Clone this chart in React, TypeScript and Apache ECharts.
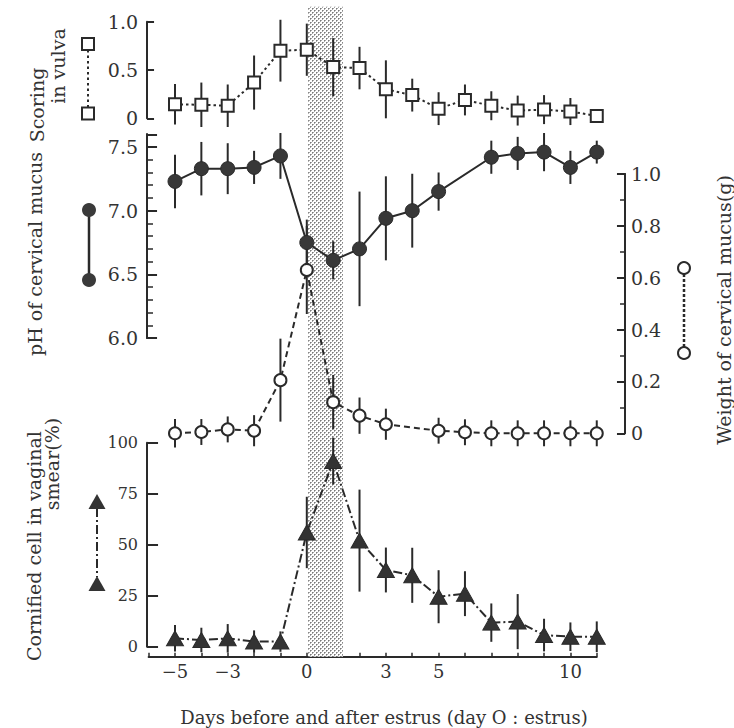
import React, { useEffect, useRef } from "react";
import * as echarts from "echarts";

// ---------------- data ----------------
const days = [-5, -4, -3, -2, -1, 0, 1, 2, 3, 4, 5, 6, 7, 8, 9, 10, 11];

// Scoring in vulva (open squares, dotted line)
const scoringMean = [0.145, 0.14, 0.13, 0.37, 0.7, 0.71, 0.53, 0.52, 0.3, 0.24, 0.1, 0.19, 0.13, 0.08, 0.09, 0.07, 0.025];
const scoringErr = [0.21, 0.23, 0.22, 0.28, 0.32, 0.27, 0.3, 0.22, 0.3, 0.17, 0.17, 0.16, 0.15, 0.155, 0.15, 0.14, 0];

// pH of cervical mucus (filled circles, solid line) - no value on day 6
const phDays = [-5, -4, -3, -2, -1, 0, 1, 2, 3, 4, 5, 7, 8, 9, 10, 11];
const phMean = [7.23, 7.33, 7.33, 7.34, 7.43, 6.75, 6.61, 6.7, 6.94, 7.0, 7.15, 7.42, 7.45, 7.46, 7.34, 7.46];
const phErr = [0.21, 0.21, 0.2, 0.13, 0.18, 0.18, 0.15, 0.45, 0.33, 0.29, 0.15, 0.13, 0.13, 0.15, 0.13, 0.09];

// Weight of cervical mucus (open circles, dashed line) - no value on day 4
const weightDays = [-5, -4, -3, -2, -1, 0, 1, 2, 3, 5, 6, 7, 8, 9, 10, 11];
const weightMean = [0.0, 0.005, 0.015, 0.01, 0.205, 0.63, 0.12, 0.068, 0.035, 0.01, 0.004, 0, 0, 0, 0, 0];
const weightErr = [0.055, 0.05, 0.05, 0.06, 0.16, 0.17, 0.105, 0.07, 0.06, 0.05, 0.05, 0.05, 0.05, 0.05, 0.05, 0.05];

// Cornified cells in vaginal smear, % (filled triangles, dash-dot line)
const cornifiedMean = [4.1, 3.3, 4.1, 2.5, 2.5, 56, 91, 52, 37.6, 35, 24.5, 26, 11.8, 12.3, 5.7, 4.9, 4.9];
const cornifiedErr = [6.5, 6, 7, 5.5, 5, 17.5, 11.5, 25, 11, 13.5, 13, 11, 9.4, 13.5, 8, 7, 7.5];

const xTickLabels = [-5, -3, 0, 3, 5, 10];
const estrusBand = [0.05, 1.37];

// ---------------- layout ----------------
const X0 = 306.8; // pixel of day 0
const PPD = 26.36; // pixels per day
const XMIN = -6;
const XMAX = 12.07;
const XMAX_AXIS = 11;
const LEFT = X0 + XMIN * PPD;
const WIDE = (XMAX - XMIN) * PPD;
const NARROW = (XMAX_AXIS - XMIN) * PPD;

const INK = "#2a2a2a";
const TXT = "#333333";
const FONT = "DejaVu Serif";

const fmt1 = (v: number) => (Math.abs(v) < 1e-9 ? "0" : v.toFixed(1));

export default function App() {
  const ref = useRef<HTMLDivElement>(null);

  useEffect(() => {
    document.body.style.margin = "0";
    const el = ref.current;
    if (!el) return;
    const chart = echarts.init(el, undefined, { renderer: "svg" });

    let shadeFill: any = "#cfcfcf";
    try {
      const c = document.createElement("canvas");
      c.width = 4;
      c.height = 4;
      const ctx = c.getContext("2d");
      if (ctx) {
        ctx.fillStyle = "#ffffff";
        ctx.fillRect(0, 0, 4, 4);
        ctx.fillStyle = "#7a7a7a";
        ctx.fillRect(0, 0, 1, 1);
        ctx.fillRect(2, 2, 1, 1);
        ctx.fillStyle = "#a8a8a8";
        ctx.fillRect(1, 0, 1, 1);
        ctx.fillRect(0, 1, 1, 1);
        ctx.fillRect(3, 2, 1, 1);
        ctx.fillRect(2, 3, 1, 1);
        shadeFill = { image: c.toDataURL(), repeat: "repeat", imageWidth: 4, imageHeight: 4 };
      }
    } catch (e) {
      shadeFill = "#cfcfcf";
    }

    const errData = (xs: number[], m: number[], e: number[]) =>
      xs.map((x, i) => [x, m[i] - e[i], m[i] + e[i]]);

    const errSeries = (xi: number, yi: number, data: number[][]) => ({
      type: "custom",
      xAxisIndex: xi,
      yAxisIndex: yi,
      data,
      clip: false,
      silent: true,
      z: 3,
      encode: { x: 0, y: [1, 2] },
      renderItem: (params: any, api: any) => {
        const x = api.value(0);
        const p1 = api.coord([x, api.value(1)]);
        const p2 = api.coord([x, api.value(2)]);
        return {
          type: "line",
          shape: { x1: p1[0], y1: p1[1], x2: p2[0], y2: p2[1] },
          style: { stroke: INK, lineWidth: 2 },
        };
      },
    });

    const lineSeries = (
      xi: number,
      yi: number,
      xs: number[],
      ys: number[],
      symbol: string,
      size: any,
      itemStyle: any,
      dash: any
    ) => ({
      type: "line",
      xAxisIndex: xi,
      yAxisIndex: yi,
      data: xs.map((x, i) => [x, ys[i]]),
      symbol,
      symbolSize: size,
      showSymbol: true,
      clip: false,
      silent: true,
      z: 4,
      itemStyle,
      lineStyle: { color: INK, width: 2, type: dash },
      emphasis: { disabled: true },
    });

    const hiddenX = (gi: number, max: number) => ({
      type: "value",
      gridIndex: gi,
      min: XMIN,
      max,
      show: false,
    });

    const axisLineOn = { show: true, onZero: false, lineStyle: { color: INK, width: 2 } };

    const leftAxisBase = {
      type: "value",
      position: "left",
      offset: 1.6,
      splitLine: { show: false },
      axisLine: axisLineOn,
    };

    const option: any = {
      animation: false,
      backgroundColor: "#ffffff",
      textStyle: { fontFamily: FONT },
      grid: [
        { left: LEFT, top: 6.7, width: WIDE, height: 650, outerBoundsMode: "none" },
        { left: LEFT, top: 21.7, width: WIDE, height: 96.6, outerBoundsMode: "none" },
        { left: LEFT, top: 134.3, width: WIDE, height: 203.7, outerBoundsMode: "none" },
        { left: LEFT, top: 174, width: WIDE, height: 259.3, outerBoundsMode: "none" },
        { left: LEFT, top: 442.7, width: NARROW, height: 204, outerBoundsMode: "none" },
      ],
      xAxis: [
        hiddenX(0, XMAX),
        hiddenX(1, XMAX),
        hiddenX(2, XMAX),
        hiddenX(3, XMAX),
        {
          type: "value",
          gridIndex: 4,
          min: XMIN,
          max: XMAX_AXIS,
          interval: 1,
          position: "bottom",
          offset: 10,
          splitLine: { show: false },
          axisLine: axisLineOn,
          axisTick: { show: true, inside: true, length: 4, lineStyle: { color: INK, width: 1.5 } },
          axisLabel: {
            show: true,
            margin: 6,
            color: TXT,
            fontFamily: FONT,
            fontSize: 18,
            formatter: (v: number) => {
              const r = Math.round(v);
              if (Math.abs(v - r) > 1e-6 || xTickLabels.indexOf(r) < 0) return "";
              return r < 0 ? "\u2212" + Math.abs(r) : String(r);
            },
          },
        },
      ],
      yAxis: [
        { type: "value", gridIndex: 0, min: 0, max: 1, show: false },
        {
          ...leftAxisBase,
          gridIndex: 1,
          min: 0,
          max: 1,
          interval: 0.5,
          axisTick: { show: true, inside: true, length: 7, lineStyle: { color: INK, width: 2 } },
          axisLabel: { margin: 9, color: TXT, fontFamily: FONT, fontSize: 19, formatter: fmt1 },
        },
        {
          ...leftAxisBase,
          gridIndex: 2,
          min: 6,
          max: 7.6,
          interval: 0.5,
          axisTick: { show: true, inside: true, length: 10, lineStyle: { color: INK, width: 2 } },
          axisLabel: {
            margin: 9,
            color: TXT,
            fontFamily: FONT,
            fontSize: 19,
            formatter: (v: number) => (Math.abs(v * 2 - Math.round(v * 2)) < 1e-6 ? v.toFixed(1) : ""),
          },
        },
        {
          ...leftAxisBase,
          gridIndex: 2,
          min: 6,
          max: 7.6,
          interval: 0.1,
          axisTick: { show: true, inside: true, length: 6, lineStyle: { color: INK, width: 1.5 } },
          axisLabel: { show: false },
        },
        {
          type: "value",
          gridIndex: 3,
          position: "right",
          min: 0,
          max: 1,
          interval: 0.2,
          splitLine: { show: false },
          axisLine: axisLineOn,
          axisTick: { show: true, inside: true, length: 8, lineStyle: { color: INK, width: 2 } },
          axisLabel: { margin: 6, color: TXT, fontFamily: FONT, fontSize: 19, formatter: fmt1 },
        },
        {
          type: "value",
          gridIndex: 3,
          position: "right",
          min: 0,
          max: 1,
          interval: 0.1,
          splitLine: { show: false },
          axisLine: axisLineOn,
          axisTick: { show: true, inside: true, length: 5, lineStyle: { color: INK, width: 1.5 } },
          axisLabel: { show: false },
        },
        {
          ...leftAxisBase,
          gridIndex: 4,
          min: 0,
          max: 100,
          interval: 25,
          axisTick: { show: true, inside: true, length: 11, lineStyle: { color: INK, width: 2 } },
          axisLabel: { margin: 9, color: TXT, fontFamily: FONT, fontSize: 16 },
        },
      ],
      series: [
        {
          type: "custom",
          xAxisIndex: 0,
          yAxisIndex: 0,
          data: [[estrusBand[0], estrusBand[1]]],
          clip: false,
          silent: true,
          z: 1,
          encode: { x: [0, 1] },
          renderItem: (params: any, api: any) => {
            const a = api.coord([api.value(0), 1]);
            const b = api.coord([api.value(1), 0]);
            return {
              type: "rect",
              shape: { x: a[0], y: a[1], width: b[0] - a[0], height: b[1] - a[1] },
              style: { fill: shadeFill },
            };
          },
        },
        errSeries(1, 1, errData(days, scoringMean, scoringErr)),
        lineSeries(1, 1, days, scoringMean, "rect", 12,
          { color: "#ffffff", borderColor: INK, borderWidth: 2 }, [2.5, 3]),
        errSeries(2, 2, errData(phDays, phMean, phErr)),
        lineSeries(2, 2, phDays, phMean, "circle", 14,
          { color: "#383838", borderColor: INK, borderWidth: 1 }, "solid"),
        errSeries(3, 4, errData(weightDays, weightMean, weightErr)),
        lineSeries(3, 4, weightDays, weightMean, "circle", 12,
          { color: "#ffffff", borderColor: INK, borderWidth: 2 }, [6, 4]),
        errSeries(4, 6, errData(days, cornifiedMean, cornifiedErr)),
        lineSeries(4, 6, days, cornifiedMean, "triangle", [17, 15],
          { color: "#333333", borderColor: INK, borderWidth: 1 }, [9, 3, 2, 3]),
      ],
      graphic: [
        // legend key: scoring (open squares, dotted)
        { type: "line", shape: { x1: 88, y1: 50, x2: 88, y2: 107 }, style: { stroke: INK, lineWidth: 2, lineDash: [2.5, 3] } },
        { type: "rect", shape: { x: 82, y: 38, width: 12, height: 12 }, style: { fill: "#fff", stroke: INK, lineWidth: 2 } },
        { type: "rect", shape: { x: 82, y: 107.5, width: 12, height: 12 }, style: { fill: "#fff", stroke: INK, lineWidth: 2 } },
        // legend key: pH (filled circles, solid)
        { type: "line", shape: { x1: 89, y1: 210, x2: 89, y2: 280 }, style: { stroke: INK, lineWidth: 2.5 } },
        { type: "circle", shape: { cx: 89, cy: 210, r: 7 }, style: { fill: "#3a3a3a" } },
        { type: "circle", shape: { cx: 89, cy: 280, r: 7 }, style: { fill: "#3a3a3a" } },
        // legend key: weight (open circles, dashed)
        { type: "line", shape: { x1: 684, y1: 274, x2: 684, y2: 347 }, style: { stroke: INK, lineWidth: 2.5, lineDash: [3, 2] } },
        { type: "circle", shape: { cx: 684, cy: 268, r: 6 }, style: { fill: "#fff", stroke: INK, lineWidth: 2 } },
        { type: "circle", shape: { cx: 684, cy: 353, r: 6 }, style: { fill: "#fff", stroke: INK, lineWidth: 2 } },
        // legend key: cornified (triangles, dash-dot)
        { type: "line", shape: { x1: 97, y1: 508, x2: 97, y2: 577 }, style: { stroke: INK, lineWidth: 2, lineDash: [9, 3, 2, 3] } },
        { type: "polygon", shape: { points: [[97, 494], [105.5, 509], [88.5, 509]] }, style: { fill: "#333" } },
        { type: "polygon", shape: { points: [[97, 576], [105.5, 591], [88.5, 591]] }, style: { fill: "#333" } },
        // axis titles
        ...[
          { t: "Scoring", x: 37, y: 105, r: Math.PI / 2, s: 19 },
          { t: "in vulva", x: 58, y: 66, r: Math.PI / 2, s: 19 },
          { t: "pH of cervical mucus", x: 35, y: 254, r: Math.PI / 2, s: 19 },
          { t: "Cornified cell in vaginal", x: 34, y: 546, r: Math.PI / 2, s: 19 },
          { t: "smear(%)", x: 52, y: 464, r: Math.PI / 2, s: 19 },
          { t: "Weight of cervical mucus(g)", x: 724, y: 310, r: Math.PI / 2, s: 19 },
          { t: "Days before and after estrus (day O : estrus)", x: 384, y: 717, r: 0, s: 18 },
        ].map((d) => ({
          type: "text",
          x: d.x,
          y: d.y,
          rotation: d.r,
          style: {
            text: d.t,
            fill: TXT,
            fontFamily: FONT,
            fontSize: d.s,
            align: "center",
            verticalAlign: "middle",
            textAlign: "center",
            textVerticalAlign: "middle",
          },
        })),
      ],
    };

    chart.setOption(option);
    return () => {
      chart.dispose();
    };
  }, []);

  return <div ref={ref} style={{ width: 734, height: 728 }} />;
}
